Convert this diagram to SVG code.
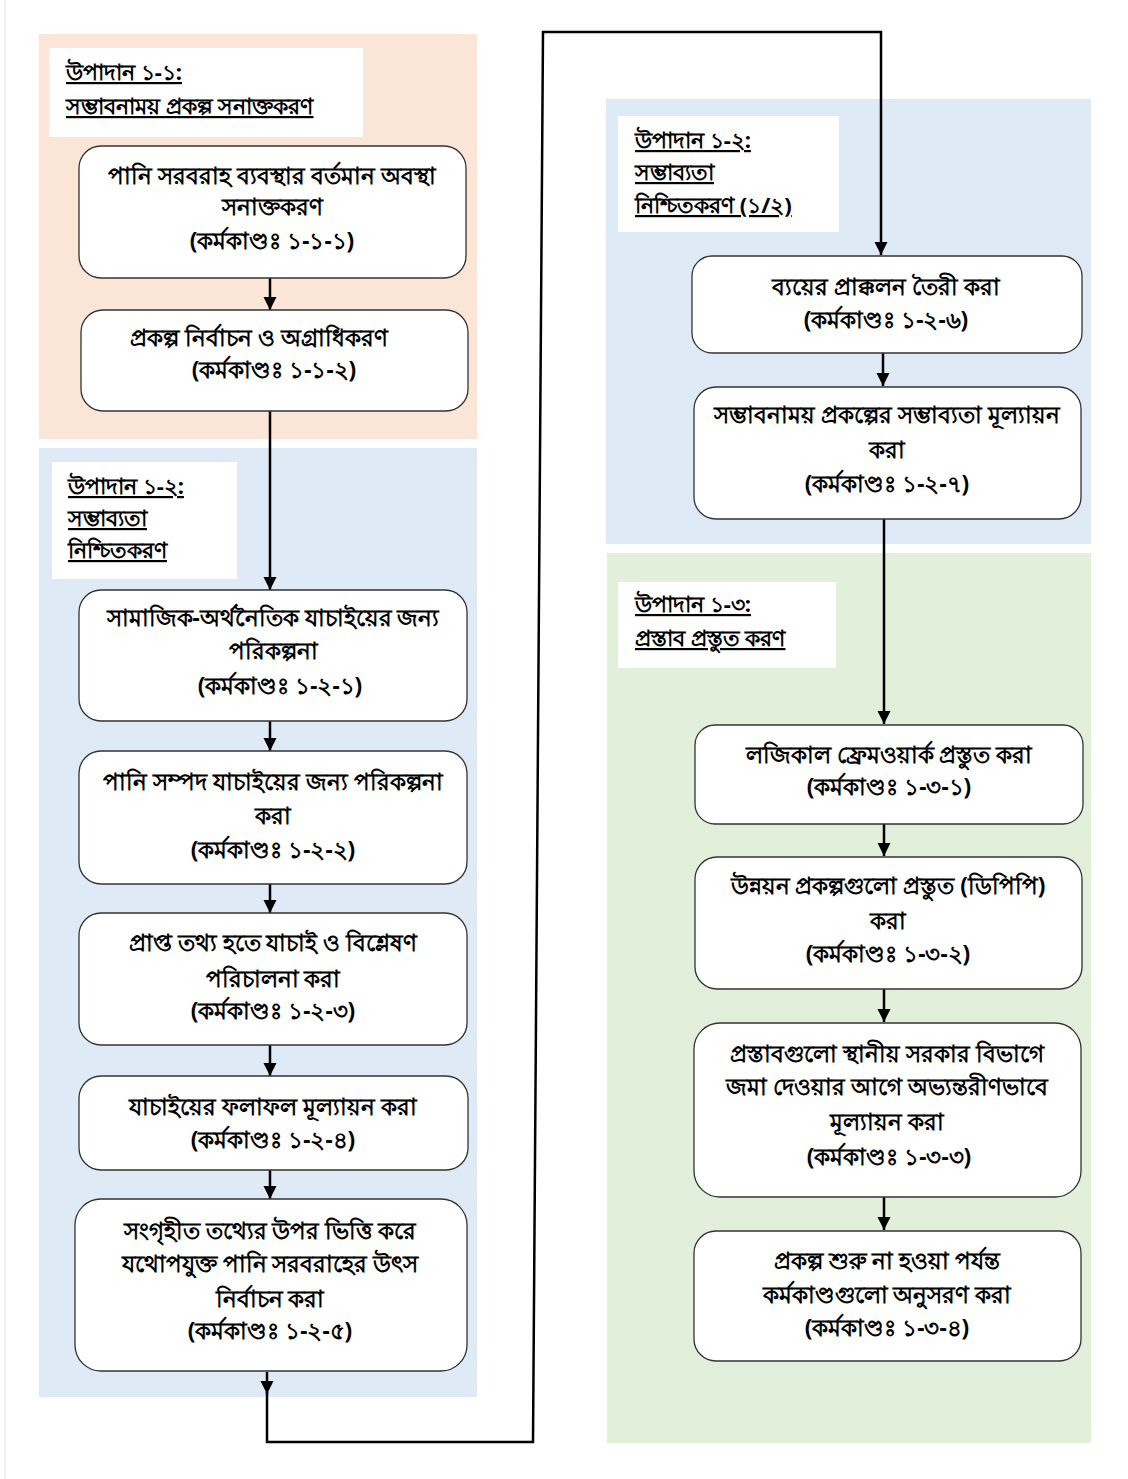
<svg xmlns="http://www.w3.org/2000/svg" width="1128" height="1479" viewBox="0 0 1128 1479">
<style>
.panel-o{fill:#FBE5D6}
.panel-b{fill:#DEEAF6}
.panel-g{fill:#E2EFDA}
.tbox{fill:#ffffff}
.node{fill:#ffffff;stroke:#333333;stroke-width:1.3}
.t{font-family:'Noto Sans','DejaVu Sans',sans-serif;font-size:22.5px;font-weight:bold;fill:#000;text-anchor:middle}
.h{font-family:'Noto Sans','DejaVu Sans',sans-serif;font-size:22px;font-weight:bold;fill:#000;text-decoration:underline}
.c{fill:none;stroke:#000;stroke-width:2.5}
</style>
<defs>
<marker id="ah" markerUnits="userSpaceOnUse" markerWidth="14" markerHeight="14" refX="13" refY="6.5" orient="auto">
<path d="M0,0 L13,6.5 L0,13 z" fill="#000"/>
</marker>
</defs>
<rect width="1128" height="1479" fill="#ffffff"/>
<line x1="5" y1="0" x2="5" y2="1479" stroke="#e0e0e0" stroke-width="1"/>

<g id="panels">
<rect class="panel-o" x="39" y="34" width="438" height="405"/>
<rect class="panel-b" x="39" y="448" width="438" height="949"/>
<rect class="panel-b" x="606" y="99" width="485" height="445"/>
<rect class="panel-g" x="607" y="553" width="484" height="890"/>
</g>

<g id="title-1-1">
<rect class="tbox" x="49" y="48" width="314" height="89"/>
<text class="h" x="66" y="80">উপাদান ১-১:</text>
<text class="h" x="66" y="114">সম্ভাবনাময় প্রকল্প সনাক্তকরণ</text>
</g>
<g id="title-1-2a">
<rect class="tbox" x="52" y="462" width="185" height="117"/>
<text class="h" x="68" y="494">উপাদান ১-২:</text>
<text class="h" x="68" y="526">সম্ভাব্যতা</text>
<text class="h" x="68" y="558">নিশ্চিতকরণ</text>
</g>
<g id="title-1-2b">
<rect class="tbox" x="618" y="116" width="221" height="116"/>
<text class="h" x="635" y="148">উপাদান ১-২:</text>
<text class="h" x="635" y="180">সম্ভাব্যতা</text>
<text class="h" x="635" y="213">নিশ্চিতকরণ (১/২)</text>
</g>
<g id="title-1-3">
<rect class="tbox" x="618" y="582" width="218" height="86"/>
<text class="h" x="635" y="612">উপাদান ১-৩:</text>
<text class="h" x="635" y="646">প্রস্তাব প্রস্তুত করণ</text>
</g>

<g id="connectors">
<line class="c" x1="270" y1="278" x2="270" y2="310" marker-end="url(#ah)"/>
<line class="c" x1="270" y1="411" x2="270" y2="590" marker-end="url(#ah)"/>
<line class="c" x1="270" y1="721" x2="270" y2="751" marker-end="url(#ah)"/>
<line class="c" x1="270" y1="884" x2="270" y2="913" marker-end="url(#ah)"/>
<line class="c" x1="270" y1="1045" x2="270" y2="1076" marker-end="url(#ah)"/>
<line class="c" x1="270" y1="1170" x2="270" y2="1199" marker-end="url(#ah)"/>
<line class="c" x1="267" y1="1372" x2="267" y2="1394" marker-end="url(#ah)"/>
<path class="c" d="M267,1392 L267,1442 L533,1442 L543,32 L881,32 L881,255" marker-end="url(#ah)"/>
<line class="c" x1="883" y1="353" x2="883" y2="386" marker-end="url(#ah)"/>
<line class="c" x1="884" y1="519" x2="884" y2="724" marker-end="url(#ah)"/>
<line class="c" x1="884" y1="824" x2="884" y2="856" marker-end="url(#ah)"/>
<line class="c" x1="884" y1="989" x2="884" y2="1022" marker-end="url(#ah)"/>
<line class="c" x1="884" y1="1197" x2="884" y2="1230" marker-end="url(#ah)"/>
</g>

<g id="node-1-1-1">
<rect class="node" x="79" y="146" width="387" height="132" rx="22"/>
<text class="t" x="272" y="184">পানি সরবরাহ ব্যবস্থার বর্তমান অবস্থা</text>
<text class="t" x="272" y="215">সনাক্তকরণ</text>
<text class="t" x="272" y="249">(কর্মকাণ্ডঃ ১-১-১)</text>
</g>
<g id="node-1-1-2">
<rect class="node" x="81" y="310" width="387" height="101" rx="22"/>
<text class="t" x="259" y="346">প্রকল্প নির্বাচন ও অগ্রাধিকরণ</text>
<text class="t" x="274" y="378">(কর্মকাণ্ডঃ ১-১-২)</text>
</g>
<g id="node-1-2-1">
<rect class="node" x="79" y="590" width="388" height="131" rx="22"/>
<text class="t" x="273" y="626">সামাজিক-অর্থনৈতিক যাচাইয়ের জন্য</text>
<text class="t" x="273" y="659">পরিকল্পনা</text>
<text class="t" x="280" y="694">(কর্মকাণ্ডঃ ১-২-১)</text>
</g>
<g id="node-1-2-2">
<rect class="node" x="79" y="751" width="388" height="133" rx="22"/>
<text class="t" x="273" y="790">পানি সম্পদ যাচাইয়ের জন্য পরিকল্পনা</text>
<text class="t" x="273" y="824">করা</text>
<text class="t" x="273" y="858">(কর্মকাণ্ডঃ ১-২-২)</text>
</g>
<g id="node-1-2-3">
<rect class="node" x="79" y="913" width="388" height="132" rx="22"/>
<text class="t" x="273" y="951">প্রাপ্ত তথ্য হতে যাচাই ও বিশ্লেষণ</text>
<text class="t" x="273" y="987">পরিচালনা করা</text>
<text class="t" x="273" y="1019">(কর্মকাণ্ডঃ ১-২-৩)</text>
</g>
<g id="node-1-2-4">
<rect class="node" x="79" y="1076" width="389" height="94" rx="22"/>
<text class="t" x="273" y="1115">যাচাইয়ের ফলাফল মূল্যায়ন করা</text>
<text class="t" x="273" y="1148">(কর্মকাণ্ডঃ ১-২-৪)</text>
</g>
<g id="node-1-2-5">
<rect class="node" x="75" y="1199" width="392" height="172" rx="26"/>
<text class="t" x="270" y="1239">সংগৃহীত তথ্যের উপর ভিত্তি করে</text>
<text class="t" x="270" y="1272">যথোপযুক্ত পানি সরবরাহের উৎস</text>
<text class="t" x="270" y="1307">নির্বাচন করা</text>
<text class="t" x="270" y="1339">(কর্মকাণ্ডঃ ১-২-৫)</text>
</g>
<g id="node-1-2-6">
<rect class="node" x="692" y="256" width="390" height="97" rx="20"/>
<text class="t" x="886" y="295">ব্যয়ের প্রাক্কলন তৈরী করা</text>
<text class="t" x="886" y="328">(কর্মকাণ্ডঃ ১-২-৬)</text>
</g>
<g id="node-1-2-7">
<rect class="node" x="694" y="387" width="387" height="132" rx="22"/>
<text class="t" x="887" y="423">সম্ভাবনাময় প্রকল্পের সম্ভাব্যতা মূল্যায়ন</text>
<text class="t" x="887" y="458">করা</text>
<text class="t" x="887" y="492">(কর্মকাণ্ডঃ ১-২-৭)</text>
</g>
<g id="node-1-3-1">
<rect class="node" x="695" y="725" width="388" height="99" rx="20"/>
<text class="t" x="889" y="763">লজিকাল ফ্রেমওয়ার্ক প্রস্তুত করা</text>
<text class="t" x="889" y="795">(কর্মকাণ্ডঃ ১-৩-১)</text>
</g>
<g id="node-1-3-2">
<rect class="node" x="695" y="857" width="387" height="132" rx="22"/>
<text class="t" x="888" y="894">উন্নয়ন প্রকল্পগুলো প্রস্তুত (ডিপিপি)</text>
<text class="t" x="888" y="929">করা</text>
<text class="t" x="888" y="962">(কর্মকাণ্ডঃ ১-৩-২)</text>
</g>
<g id="node-1-3-3">
<rect class="node" x="694" y="1023" width="387" height="174" rx="26"/>
<text class="t" x="887" y="1062">প্রস্তাবগুলো স্থানীয় সরকার বিভাগে</text>
<text class="t" x="887" y="1095">জমা দেওয়ার আগে অভ্যন্তরীণভাবে</text>
<text class="t" x="887" y="1130">মূল্যায়ন করা</text>
<text class="t" x="889" y="1165">(কর্মকাণ্ডঃ ১-৩-৩)</text>
</g>
<g id="node-1-3-4">
<rect class="node" x="694" y="1231" width="387" height="130" rx="22"/>
<text class="t" x="887" y="1269">প্রকল্প শুরু না হওয়া পর্যন্ত</text>
<text class="t" x="887" y="1303">কর্মকাণ্ডগুলো অনুসরণ করা</text>
<text class="t" x="887" y="1336">(কর্মকাণ্ডঃ ১-৩-৪)</text>
</g>
</svg>
